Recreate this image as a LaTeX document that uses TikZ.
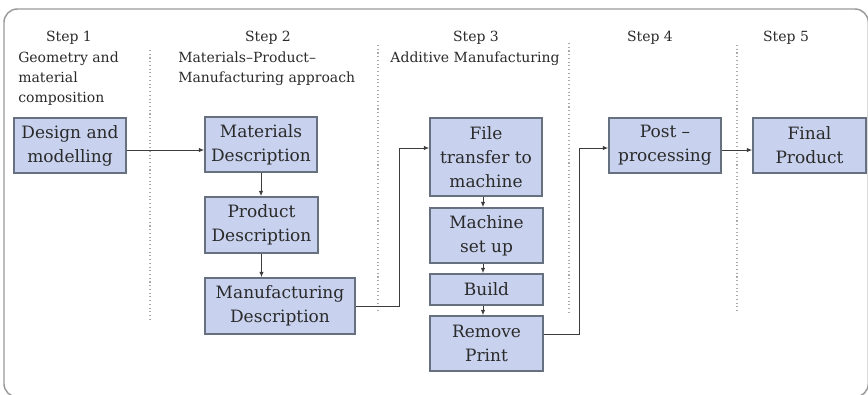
\documentclass[tikz,border=0pt]{standalone}
\usepackage{fontspec}
\setmainfont{DejaVu Serif}
\usetikzlibrary{arrows.meta}
\definecolor{boxfill}{HTML}{C8D2EE}
\definecolor{boxline}{HTML}{66707E}
\definecolor{txt}{HTML}{2A2A2A}
\definecolor{conncol}{HTML}{3C3C3C}
\definecolor{framecol}{HTML}{9A9A9A}
\definecolor{sepcol}{HTML}{AAAAAA}
\begin{document}
\begin{tikzpicture}[x=0.75pt,y=-0.75pt,
 stepbox/.style={draw=boxline,line width=1.1pt,fill=boxfill,align=center,text=txt,
   font=\fontsize{12.75pt}{18pt}\selectfont,inner sep=0pt},
 hdr/.style={text=txt,font=\fontsize{10.5pt}{15.4pt}\selectfont,inner sep=0pt},
 arr/.style={draw=conncol,line width=0.7pt,-{Latex[length=4pt,width=3.2pt]}},
 sepline/.style={draw=sepcol,line width=0.8pt,dotted}]
\useasboundingbox (0,0) rectangle (868,394);
\begin{scope}
\clip (0,0) rectangle (868,394);
\draw[framecol,line width=1.1pt,rounded corners=10pt] (4,9) rectangle (868.3,397);
\end{scope}
% separators
\draw[sepline] (150,50) -- (150,320);
\draw[sepline] (378,45) -- (378,313);
\draw[sepline] (569,43) -- (569,313);
\draw[sepline] (737,45) -- (737,312);
% headers
\node[hdr,anchor=base] (s1) at (69,41.5) {Step 1};
\node[hdr,anchor=base west] (h1a) at (18,62) {Geometry and};
\node[hdr,anchor=base west] (h1b) at (18,82) {material};
\node[hdr,anchor=base west] (h1c) at (18,102.5) {composition};
\node[hdr,anchor=base] (s2) at (268,41.5) {Step 2};
\node[hdr,anchor=base west] (h2a) at (178,62) {Materials–Product–};
\node[hdr,anchor=base west] (h2b) at (178,82) {Manufacturing approach};
\node[hdr,anchor=base] (s3) at (476,41.5) {Step 3};
\node[hdr,anchor=base] (h3a) at (475,62) {Additive Manufacturing};
\node[hdr,anchor=base] (s4) at (650,41.5) {Step 4};
\node[hdr,anchor=base] (s5) at (786,41.5) {Step 5};
% boxes
\node[stepbox,minimum width=84pt,minimum height=41.25pt] (design) at (70,145.5) {Design and\\modelling};
\node[stepbox,minimum width=84pt,minimum height=41.25pt] (materials) at (261,144.5) {Materials\\Description};
\node[stepbox,minimum width=84.75pt,minimum height=42pt] (product) at (261.5,225) {Product\\Description};
\node[stepbox,minimum width=112.5pt,minimum height=42pt] (manuf) at (280,306) {Manufacturing\\Description};
\node[stepbox,minimum width=84pt,minimum height=58.5pt] (file) at (486,157) {File\\transfer to\\machine};
\node[stepbox,minimum width=84.75pt,minimum height=41.25pt] (machine) at (486.5,235.5) {Machine\\set up};
\node[stepbox,minimum width=84.75pt,minimum height=23.25pt] (build) at (486.5,289.5) {Build};
\node[stepbox,minimum width=84.75pt,minimum height=41.25pt] (remove) at (486.5,343.5) {Remove\\Print};
\node[stepbox,minimum width=84pt,minimum height=41.25pt] (post) at (665,145.5) {Post –\\processing};
\node[stepbox,minimum width=84.75pt,minimum height=41.25pt] (final) at (809.5,145.5) {Final\\Product};
% helper coordinates
\coordinate (j1) at (399,148);
\coordinate (j2) at (579,148);
\coordinate (ya) at (0,150);
\coordinate (xc) at (483,0);
\coordinate (yr) at (0,334);
% connectors
\draw[arr] (design.east |- ya) -- (materials.west |- ya);
\draw[arr] (materials.south) -- (product.north -| materials.south);
\draw[arr] (product.south) -- (manuf.north -| product.south);
\draw[arr] (manuf.east) -| (j1) -- (file.west |- j1);
\draw[arr] (file.south -| xc) -- (machine.north -| xc);
\draw[arr] (machine.south -| xc) -- (build.north -| xc);
\draw[arr] (build.south -| xc) -- (remove.north -| xc);
\draw[arr] (remove.east |- yr) -| (j2) -- (post.west |- j2);
\draw[arr] (post.east |- ya) -- (final.west |- ya);
\end{tikzpicture}
\end{document}
